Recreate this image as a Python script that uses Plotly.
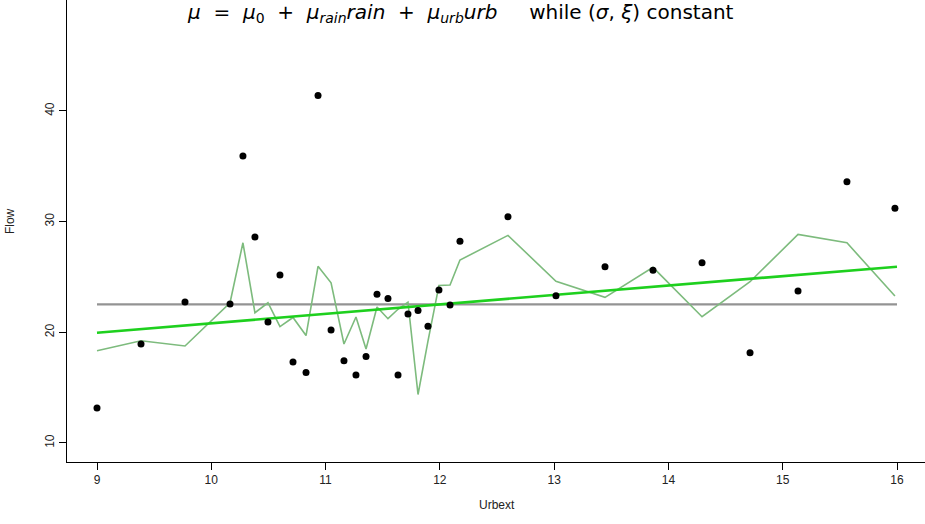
import plotly.graph_objects as go

# Observed data (Urbext vs Flow)
urbext = [9.00, 9.385, 9.77, 10.164, 10.277, 10.382, 10.496, 10.601, 10.715, 10.829,
          10.934, 11.048, 11.161, 11.266, 11.354, 11.450, 11.546, 11.634, 11.721, 11.809,
          11.896, 11.992, 12.089, 12.176, 12.596, 13.016, 13.445, 13.865, 14.294, 14.714,
          15.134, 15.562, 15.982]
flow = [13.16, 18.94, 22.74, 22.56, 35.93, 28.61, 20.93, 25.18, 17.32, 16.37,
        41.41, 20.21, 17.43, 16.14, 17.81, 23.43, 23.05, 16.14, 21.65, 21.97,
        20.54, 23.82, 22.47, 28.22, 30.44, 23.31, 25.93, 25.60, 26.29, 18.16,
        23.73, 33.60, 31.20]

# Fitted location mu = mu0 + mu_rain*rain + mu_urb*urb (thin green)
mu_full = [18.34, 19.24, 18.76, 22.67, 28.09, 21.77, 22.67, 20.52, 21.34, 19.71,
           25.96, 24.47, 18.94, 21.38, 18.49, 22.29, 21.23, 22.08, 22.72, 14.38,
           19.21, 24.23, 24.27, 26.53, 28.76, 24.61, 23.16, 25.87, 21.41, 24.57,
           28.85, 28.09, 23.28]

# Linear trend in urb (thick green) and stationary fit (gray)
trend_x = [9.0, 16.0]
trend_y = [19.96, 25.93]
stat_x = [9.0, 16.0]
stat_y = [22.53, 22.53]

x_ticks = [9, 10, 11, 12, 13, 14, 15, 16]
y_ticks = [10, 20, 30, 40]

fig = go.Figure()
fig.add_trace(go.Scatter(x=stat_x, y=stat_y, mode="lines",
                         line=dict(color="#939393", width=2.2), showlegend=False))
fig.add_trace(go.Scatter(x=urbext, y=mu_full, mode="lines",
                         line=dict(color="#7dbb7d", width=1.6), showlegend=False))
fig.add_trace(go.Scatter(x=trend_x, y=trend_y, mode="lines",
                         line=dict(color="#1ed01e", width=2.6), showlegend=False))
fig.add_trace(go.Scatter(x=urbext, y=flow, mode="markers",
                         marker=dict(color="black", size=7), showlegend=False))

axis_font = dict(family="Liberation Sans, Arial, sans-serif", size=12, color="#222")

title_text = ("<i>μ</i>  =  <i>μ</i><sub>0</sub>  +  <i>μ<sub>rain</sub>rain</i>  +  "
              "<i>μ<sub>urb</sub>urb</i>     while (<i>σ</i>, <i>ξ</i>) constant")

fig.update_layout(
    width=925, height=524,
    margin=dict(l=67, r=0, t=0, b=62),
    paper_bgcolor="white", plot_bgcolor="white",
    xaxis=dict(range=[8.7375, 16.245], tickvals=x_ticks, ticks="outside", ticklen=7,
               tickcolor="black", showline=True, linecolor="black", linewidth=1,
               showgrid=False, zeroline=False, tickfont=axis_font),
    yaxis=dict(range=[8.28, 50.03], tickvals=y_ticks, ticks="outside", ticklen=7,
               tickcolor="black", showline=True, linecolor="black", linewidth=1,
               showgrid=False, zeroline=False, tickfont=axis_font, tickangle=-90),
    annotations=[
        dict(text=title_text,
             xref="paper", yref="paper", x=0.459, y=0.971, showarrow=False,
             xanchor="center", yanchor="middle",
             font=dict(family="DejaVu Sans, sans-serif", size=20, color="black")),
        dict(text="Flow", xref="paper", yref="paper", x=-0.0664, y=0.5216,
             showarrow=False, textangle=-90, xanchor="center", yanchor="middle",
             font=axis_font),
        dict(text="Urbext", xref="paper", yref="paper", x=0.501, y=-0.093,
             showarrow=False, xanchor="center", yanchor="middle", font=axis_font),
    ],
)

fig.write_html("out.html")
